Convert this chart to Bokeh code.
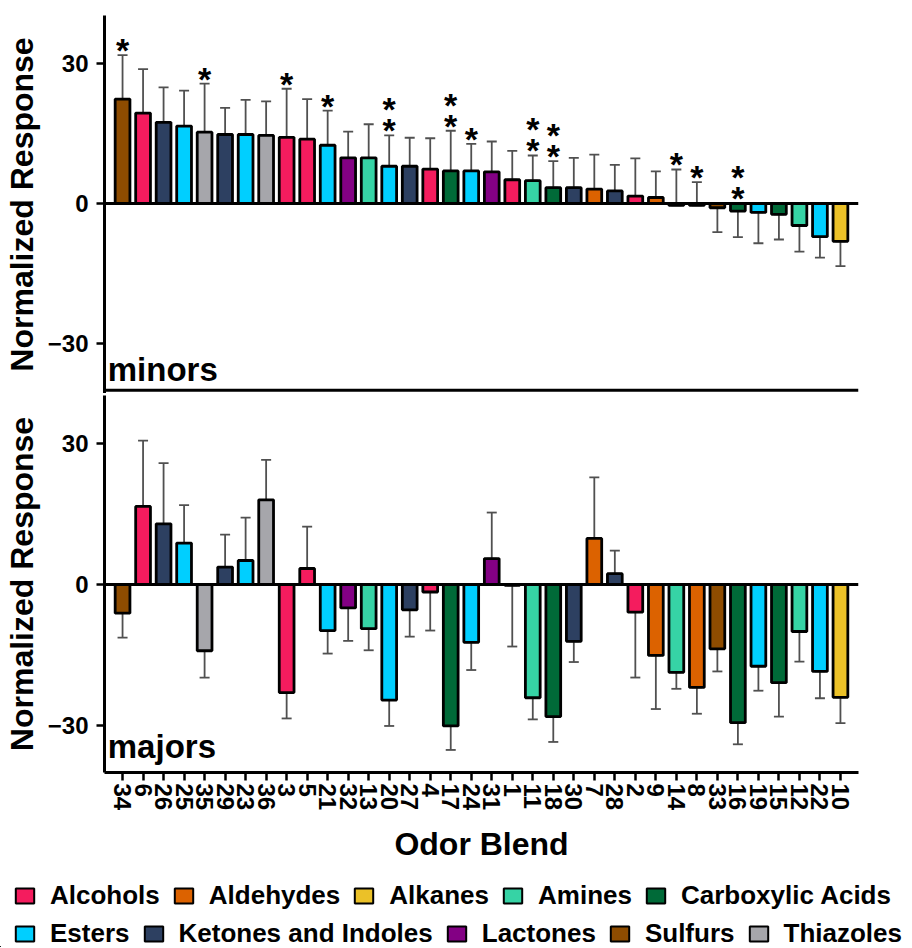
from bokeh.plotting import figure
from bokeh.models import (FactorRange, Range1d, FixedTicker, Span, Whisker, TeeHead,
                          ColumnDataSource, Label, Legend, LegendItem)
from bokeh.layouts import column
from bokeh.embed import file_html
from bokeh.resources import INLINE
from bokeh.core.properties import value

# ---------------- data ----------------
blends = ["34", "6", "26", "25", "35", "29", "23", "36", "3", "5", "21", "32", "13", "20",
          "27", "4", "17", "24", "31", "1", "11", "18", "30", "7", "28", "2", "9", "14",
          "8", "33", "16", "19", "15", "12", "22", "10"]

classes = ["Sulfurs", "Alcohols", "Ketones and Indoles", "Esters", "Thiazoles",
           "Ketones and Indoles", "Esters", "Thiazoles", "Alcohols", "Alcohols", "Esters",
           "Lactones", "Amines", "Esters", "Ketones and Indoles", "Alcohols",
           "Carboxylic Acids", "Esters", "Lactones", "Alcohols", "Amines",
           "Carboxylic Acids", "Ketones and Indoles", "Aldehydes", "Ketones and Indoles",
           "Alcohols", "Aldehydes", "Amines", "Aldehydes", "Sulfurs", "Carboxylic Acids",
           "Esters", "Carboxylic Acids", "Amines", "Esters", "Alkanes"]

minors_mean = [22.4, 19.4, 17.4, 16.6, 15.3, 14.8, 14.8, 14.6, 14.2, 13.8, 12.5, 9.8, 9.8,
               8.0, 8.0, 7.4, 7.0, 7.0, 6.8, 5.1, 4.9, 3.4, 3.4, 3.1, 2.7, 1.6, 1.3, -0.4,
               -0.4, -0.9, -1.6, -1.9, -2.3, -4.7, -7.1, -8.1]
minors_err_end = [31.8, 28.8, 24.9, 24.2, 25.7, 20.5, 22.2, 21.9, 24.6, 22.4, 19.9, 15.4,
                  17.0, 14.6, 14.1, 14.0, 15.6, 12.8, 13.3, 11.3, 10.3, 9.1, 9.8, 10.5, 8.3,
                  9.7, 6.9, 7.3, 4.6, -6.1, -7.2, -8.5, -7.7, -10.3, -11.6, -13.4]
minors_stars = [1, 0, 0, 0, 1, 0, 0, 0, 1, 0, 1, 0, 0, 2, 0, 0, 2, 1, 0, 0, 2, 2, 0, 0, 0,
                0, 0, 1, 1, 0, 2, 0, 0, 0, 0, 0]

majors_mean = [-6.1, 16.6, 12.9, 8.8, -14.1, 3.7, 5.1, 18.0, -23.0, 3.4, -9.8, -5.0, -9.4,
               -24.6, -5.4, -1.6, -30.1, -12.3, 5.5, -0.2, -24.1, -28.1, -12.1, 9.8, 2.3,
               -5.9, -15.1, -18.7, -21.9, -13.7, -29.4, -17.4, -20.9, -10.0, -18.5, -24.0]
majors_err_end = [-11.3, 30.6, 25.8, 16.9, -19.8, 10.6, 14.2, 26.5, -28.5, 12.3, -14.7,
                  -12.0, -14.0, -30.1, -11.1, -9.8, -35.2, -18.2, 15.3, -13.2, -28.7, -33.5,
                  -16.5, 22.8, 7.2, -19.8, -26.5, -22.2, -27.5, -18.5, -34.0, -22.6, -28.1,
                  -16.4, -24.2, -29.5]

class_order = ["Alcohols", "Aldehydes", "Alkanes", "Amines", "Carboxylic Acids",
               "Esters", "Ketones and Indoles", "Lactones", "Sulfurs", "Thiazoles"]

y_ticks = [-30, 0, 30]

# ---------------- style ----------------
class_colors = {
    "Alcohols": "#F41C5E",
    "Aldehydes": "#DC6200",
    "Alkanes": "#EBC128",
    "Amines": "#36D3A5",
    "Carboxylic Acids": "#006A38",
    "Esters": "#00CFFF",
    "Ketones and Indoles": "#2D4061",
    "Lactones": "#830084",
    "Sulfurs": "#8E4C00",
    "Thiazoles": "#A6A6AB",
}
FONT = "Liberation Sans"
ERR_COLOR = "#505050"
W = 912


def style_y(p):
    p.yaxis.ticker = FixedTicker(ticks=y_ticks)
    p.yaxis.axis_label = "Normalized Response"
    p.yaxis.axis_label_text_font = FONT
    p.yaxis.axis_label_text_font_style = "bold"
    p.yaxis.axis_label_text_font_size = "32px"
    p.yaxis.axis_label_text_color = "black"
    p.yaxis.axis_label_standoff = 5
    p.yaxis.major_label_text_font = FONT
    p.yaxis.major_label_text_font_style = "bold"
    p.yaxis.major_label_text_font_size = "24px"
    p.yaxis.major_label_text_color = "black"
    p.yaxis.major_label_standoff = 8
    p.yaxis.major_tick_in = 0
    p.yaxis.major_tick_out = 8
    p.yaxis.major_tick_line_width = 2.5
    p.yaxis.major_tick_line_color = "black"
    p.yaxis.minor_tick_line_color = None
    p.yaxis.axis_line_width = 3
    p.yaxis.axis_line_color = "black"


def make_panel(mean, err_end, stars, tag, tag_y, height, y_lo, y_hi, top_border,
               bottom_border, show_x):
    p = figure(width=W, height=height,
               x_range=FactorRange(factors=blends, range_padding=0.38,
                                   range_padding_units="absolute"),
               y_range=Range1d(y_lo, y_hi),
               output_backend="svg", toolbar_location=None,
               x_axis_location="below" if show_x else None,
               min_border_left=103, min_border_right=54,
               min_border_top=top_border, min_border_bottom=bottom_border)
    p.xgrid.grid_line_color = None
    p.ygrid.grid_line_color = None
    p.outline_line_color = None
    style_y(p)

    # error bars (drawn beneath the bars)
    lo = [min(m, e) for m, e in zip(mean, err_end)]
    hi = [max(m, e) for m, e in zip(mean, err_end)]
    wsrc = ColumnDataSource(dict(base=blends, lower=lo, upper=hi))
    wh = Whisker(source=wsrc, base="base", lower="lower", upper="upper",
                 line_color=ERR_COLOR, line_width=1.8, level="underlay",
                 upper_head=TeeHead(size=10, line_color=ERR_COLOR, line_width=1.8),
                 lower_head=TeeHead(size=10, line_color=ERR_COLOR, line_width=1.8))
    p.add_layout(wh)

    for cls in class_order:
        xs = [b for b, c in zip(blends, classes) if c == cls]
        ys = [m for m, c in zip(mean, classes) if c == cls]
        p.vbar(x=xs, top=ys, bottom=0, width=0.72,
               fill_color=class_colors[cls], line_color="black", line_width=2.8)

    p.add_layout(Span(location=0, dimension="width", line_color="black", line_width=3))

    if stars is not None:
        sx, sy = [], []
        for b, e, n in zip(blends, err_end, stars):
            base = max(e, 0)
            for k in range(n):
                sx.append(b)
                sy.append(base + 2.6 + 4.5 * k)
        p.text(x=sx, y=sy, text=["*"] * len(sx), text_font=value(FONT),
               text_font_style="bold", text_font_size="34px", text_align="center",
               text_baseline="alphabetic", y_offset=7, text_color="black")

    p.add_layout(Label(x=-0.22, y=tag_y, text=tag, text_font=FONT, text_font_style="bold",
                       text_font_size="33px", text_align="left",
                       text_baseline="bottom", text_color="black"))
    return p


p1 = make_panel(minors_mean, minors_err_end, minors_stars, "minors", -39.6, 393,
                -40.7, 40.3, 15, 0, False)
# bottom border line of the upper panel
p1.add_layout(Span(location=-40, dimension="width", line_color="black", line_width=3))

p2 = make_panel(majors_mean, majors_err_end, None, "majors", -38.5, 472,
                -40.0, 40.2, 2, 93, True)
p2.xaxis.axis_label = "Odor Blend"
p2.xaxis.axis_label_text_font = FONT
p2.xaxis.axis_label_text_font_style = "bold"
p2.xaxis.axis_label_text_font_size = "32px"
p2.xaxis.axis_label_text_color = "black"
p2.xaxis.axis_label_standoff = 13
p2.xaxis.major_label_orientation = "vertical"
p2.xaxis.major_label_text_font = FONT
p2.xaxis.major_label_text_font_style = "bold"
p2.xaxis.major_label_text_font_size = "24px"
p2.xaxis.major_label_text_color = "black"
p2.xaxis.major_label_standoff = 3
p2.xaxis.major_tick_in = 0
p2.xaxis.major_tick_out = 8
p2.xaxis.major_tick_line_width = 2.5
p2.xaxis.major_tick_line_color = "black"
p2.xaxis.axis_line_width = 3
p2.xaxis.axis_line_color = "black"

# legend panel (separate root so its frame spans the whole width)
p3 = figure(width=908, height=82, x_range=Range1d(0, 1), y_range=Range1d(0, 1),
            output_backend="svg", toolbar_location=None, min_border=0,
            x_axis_location=None, y_axis_location=None)
p3.outline_line_color = None
p3.grid.visible = False
leg_r = {}
for cls in class_order:
    # proxy renderers (placed outside the visible range) that only feed the legend
    leg_r[cls] = p3.vbar(x=[-5], top=[-5], bottom=[-6], width=0.5,
                         fill_color=class_colors[cls], line_color="black", line_width=2)


def make_legend(names, loc):
    return Legend(items=[LegendItem(label=n, renderers=[leg_r[n]]) for n in names],
                  orientation="horizontal", location=loc, glyph_width=23, glyph_height=19,
                  label_standoff=14, spacing=12, padding=0, margin=0,
                  border_line_color=None, background_fill_alpha=0,
                  label_text_font=FONT, label_text_font_style="bold",
                  label_text_font_size="26px", label_text_color="black")


p3.add_layout(make_legend(class_order[:5], (13, 36)))
p3.add_layout(make_legend(class_order[5:], (13, -2)))

layout = column(p1, p2)
open("out.html", "w").write(file_html([layout, p3], INLINE))
